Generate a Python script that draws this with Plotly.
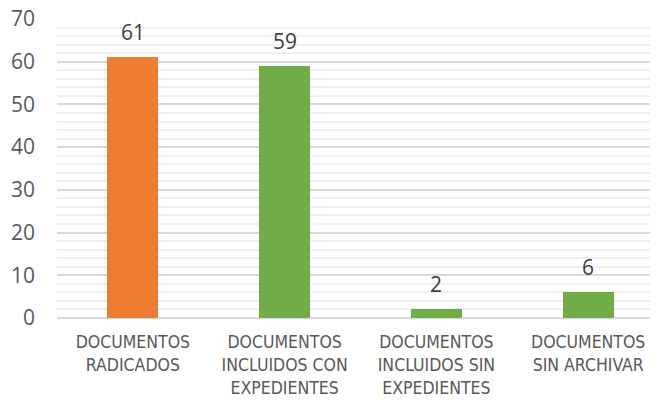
import plotly.graph_objects as go

categories = ["DOCUMENTOS<br>RADICADOS", "DOCUMENTOS<br>INCLUIDOS CON<br>EXPEDIENTES",
              "DOCUMENTOS<br>INCLUIDOS SIN<br>EXPEDIENTES", "DOCUMENTOS<br>SIN ARCHIVAR"]
values = [61, 59, 2, 6]
colors = ["#ED7D31", "#70AD47", "#70AD47", "#70AD47"]
y_ticks = [0, 10, 20, 30, 40, 50, 60, 70]

fig = go.Figure()
fig.add_trace(go.Bar(x=categories, y=values, marker=dict(color=colors, line=dict(width=0)),
                     width=0.335, hoverinfo="skip"))

for c, v in zip(categories, values):
    fig.add_annotation(x=c, y=v, text=str(v), showarrow=False, yanchor="bottom", yshift=9,
                       font=dict(family="Open Sans", size=21, color="#404040"))

fig.update_layout(
    width=650, height=396,
    margin=dict(l=49, r=0, t=11, b=86, autoexpand=False),
    paper_bgcolor="white", plot_bgcolor="white",
    showlegend=False,
    bargap=0,
)
fig.update_xaxes(range=[-0.5, 3.46], showgrid=False, showline=False, zeroline=False,
                 automargin=False,
                 tickfont=dict(family="DejaVu Sans Condensed, Liberation Sans Narrow, sans-serif",
                               size=17.5, color="#595959"),
                 ticks="outside", ticklen=8, tickcolor="rgba(0,0,0,0)")
fig.update_yaxes(range=[0, 70], tickvals=y_ticks, showgrid=True, gridcolor="#D9D9D9", gridwidth=1.5,
                 zeroline=True, zerolinecolor="#D9D9D9", zerolinewidth=2, showline=False,
                 automargin=False, ticklabeloverflow="allow",
                 minor=dict(dtick=2, showgrid=True, gridcolor="#F0F0F0", gridwidth=1.5),
                 tickfont=dict(family="Open Sans", size=21, color="#595959"),
                 ticklabelstandoff=21)

fig.write_html("out.html")
